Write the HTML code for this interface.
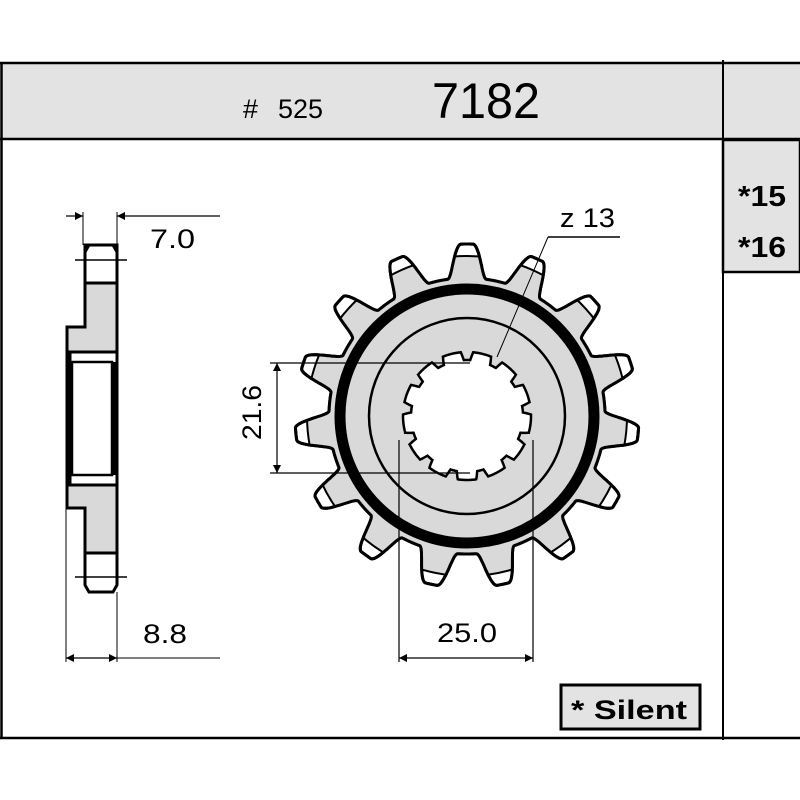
<!DOCTYPE html>
<html><head><meta charset="utf-8"><style>
html,body{margin:0;padding:0;background:#fff;width:800px;height:800px;overflow:hidden}
text{font-family:"Liberation Sans",sans-serif}
</style></head><body>
<svg width="800" height="800" viewBox="0 0 800 800" xmlns="http://www.w3.org/2000/svg">
<defs>
<marker id="ar" viewBox="0 0 10 10" refX="10" refY="5" markerWidth="10" markerHeight="8" orient="auto-start-reverse" markerUnits="userSpaceOnUse"><path d="M0,0 L10,5 L0,10 z" fill="#000"/></marker>
<clipPath id="inner"><circle cx="467" cy="416" r="160"/></clipPath>
<clipPath id="gclip"><path id="gcp" d=""/></clipPath>
</defs>
<rect x="1" y="63" width="799" height="76" fill="#e3e3e3"/>
<line x1="0" y1="63" x2="800" y2="63" stroke="#000" stroke-width="2.5"/>
<line x1="0" y1="139" x2="800" y2="139" stroke="#000" stroke-width="2.5"/>
<line x1="1.5" y1="63" x2="1.5" y2="738" stroke="#000" stroke-width="2.5"/>
<line x1="723" y1="60" x2="723" y2="740" stroke="#000" stroke-width="2"/>
<line x1="0" y1="738" x2="800" y2="738" stroke="#000" stroke-width="2.5"/>
<text x="243" y="118" style="font-size:27px" textLength="15" lengthAdjust="spacingAndGlyphs">#</text>
<text x="278" y="118" style="font-size:27px" textLength="45" lengthAdjust="spacingAndGlyphs">525</text>
<text x="432" y="118" style="font-size:50px" textLength="108" lengthAdjust="spacingAndGlyphs">7182</text>
<rect x="723" y="140" width="77" height="132" fill="#e3e3e3" stroke="#000" stroke-width="2.5"/>
<text x="738" y="206" style="font-size:29px;font-weight:bold" textLength="48" lengthAdjust="spacingAndGlyphs">*15</text>
<text x="738" y="257" style="font-size:29px;font-weight:bold" textLength="48" lengthAdjust="spacingAndGlyphs">*16</text>
<rect x="561" y="685" width="139" height="44" fill="#e3e3e3" stroke="#000" stroke-width="3"/>
<text x="571" y="719" style="font-size:27px;font-weight:bold" textLength="116" lengthAdjust="spacingAndGlyphs">* Silent</text>

<path d="M85,245 L117,245 L117,553 L85,553 L85,508 L67,508 L67,327 L85,327 Z" fill="#d9d9d9" stroke="#000" stroke-width="3"/>
<rect x="86" y="247" width="30" height="35" fill="#fff"/>
<rect x="86" y="554" width="30" height="37" fill="#fff"/>
<path d="M85,283 L85,252 L89,245 L113,245 L117,252 L117,283" fill="#fff" stroke="#000" stroke-width="3"/>
<path d="M85,553 L85,585 L89,592 L113,592 L117,585 L117,553" fill="#fff" stroke="#000" stroke-width="3"/>
<line x1="85" y1="283" x2="117" y2="283" stroke="#000" stroke-width="3"/>
<line x1="85" y1="553" x2="117" y2="553" stroke="#000" stroke-width="3"/>
<rect x="70" y="352" width="47" height="133" fill="#fff" stroke="#000" stroke-width="3"/>
<rect x="72" y="362" width="40" height="113" fill="#fff" stroke="#000" stroke-width="2.5"/>
<line x1="114" y1="362" x2="114" y2="475" stroke="#000" stroke-width="5"/>
<line x1="75" y1="260" x2="127" y2="260" stroke="#000" stroke-width="1.5"/>
<line x1="75" y1="577" x2="127" y2="577" stroke="#000" stroke-width="1.5"/>
<line x1="83" y1="212" x2="83" y2="245" stroke="#000" stroke-width="1"/>
<line x1="117" y1="212" x2="117" y2="245" stroke="#000" stroke-width="1"/>
<line x1="66" y1="216" x2="83" y2="216" stroke="#000" stroke-width="1.2" marker-end="url(#ar)"/>
<line x1="220" y1="216" x2="117" y2="216" stroke="#000" stroke-width="1.2" marker-end="url(#ar)"/>
<text x="150" y="248" style="font-size:27px" textLength="45" lengthAdjust="spacingAndGlyphs">7.0</text>
<line x1="66" y1="508" x2="66" y2="662" stroke="#000" stroke-width="1"/>
<line x1="117" y1="592" x2="117" y2="662" stroke="#000" stroke-width="1"/>
<line x1="66" y1="658" x2="117" y2="658" stroke="#000" stroke-width="1.2" marker-start="url(#ar)" marker-end="url(#ar)"/>
<line x1="117" y1="658" x2="220" y2="658" stroke="#000" stroke-width="1"/>
<text x="143" y="643" style="font-size:27px" textLength="44" lengthAdjust="spacingAndGlyphs">8.8</text>

<g id="gear"></g>
<line x1="270" y1="363" x2="470" y2="363" stroke="#000" stroke-width="1.2"/>
<line x1="270" y1="473" x2="470" y2="473" stroke="#000" stroke-width="1.2"/>
<line x1="277" y1="363" x2="277" y2="473" stroke="#000" stroke-width="1.2" marker-start="url(#ar)" marker-end="url(#ar)"/>
<text transform="translate(261 440) rotate(-90)" style="font-size:27px" textLength="55" lengthAdjust="spacingAndGlyphs">21.6</text>
<line x1="399" y1="440" x2="399" y2="662" stroke="#000" stroke-width="1.2"/>
<line x1="533" y1="440" x2="533" y2="662" stroke="#000" stroke-width="1.2"/>
<line x1="399" y1="658" x2="533" y2="658" stroke="#000" stroke-width="1.2" marker-start="url(#ar)" marker-end="url(#ar)"/>
<text x="437" y="642" style="font-size:27px" textLength="60" lengthAdjust="spacingAndGlyphs">25.0</text>
<line x1="497" y1="357" x2="548" y2="237" stroke="#000" stroke-width="1"/>
<line x1="548" y1="237" x2="620" y2="237" stroke="#000" stroke-width="1.5"/>
<text x="560" y="227" style="font-size:27px" textLength="55" lengthAdjust="spacingAndGlyphs">z 13</text>
</svg>
<script>
(function(){
var cx=467,cy=416,N=15,pts=[];
for(var i=0;i<=1800;i++){
 var th=i/1800*2*Math.PI;
 var p=th/(2*Math.PI)*N; p=p-Math.round(p); var a=Math.abs(p);
 var f; if(a<0.08)f=1; else if(a<0.34)f=0.5+0.5*Math.cos(Math.PI*(a-0.08)/0.26); else f=0;
 var r=138+34*f;
 pts.push((cx+r*Math.sin(th)).toFixed(1)+","+(cy-r*Math.cos(th)).toFixed(1));
}
var d="M"+pts.join("L")+"Z";
var sp=[];
for(var i=0;i<=1300;i++){
 var th=i/1300*2*Math.PI+Math.PI/13;
 var p=th/(2*Math.PI)*13; p=p-Math.round(p); var a=Math.abs(p);
 var r=a<0.12?56:(a<0.2?56+8*(a-0.12)/0.08:64);
 sp.push((cx+r*Math.sin(th)).toFixed(1)+","+(cy-r*Math.cos(th)).toFixed(1));
}
var ds="M"+sp.join("L")+"Z";
document.getElementById("gcp").setAttribute("d",d);
var g=document.getElementById("gear");
g.innerHTML='<path d="'+d+'" fill="#fff" stroke="#000" stroke-width="3"/>'+
'<path d="'+d+'" fill="#d9d9d9" clip-path="url(#inner)"/>'+
'<circle cx="467" cy="416" r="160" fill="none" stroke="#000" stroke-width="2" clip-path="url(#gclip)"/>'+
'<path d="'+d+'" fill="none" stroke="#000" stroke-width="3"/>'+
'<circle cx="467" cy="416" r="127" fill="none" stroke="#000" stroke-width="11"/>'+
'<circle cx="467" cy="416" r="98" fill="none" stroke="#000" stroke-width="2.5"/>'+
'<path d="'+ds+'" fill="#fff" stroke="#000" stroke-width="2.5"/>';
})();
</script>
</body></html>
